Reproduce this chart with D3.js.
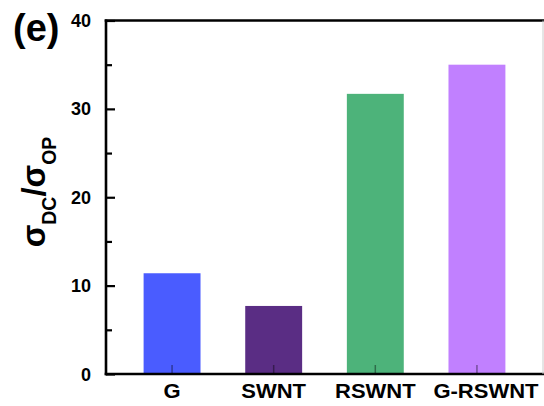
<!DOCTYPE html>
<html><head><meta charset="utf-8">
<script src="https://cdn.jsdelivr.net/npm/d3@7"></script>
<style>body{margin:0;background:#fff}svg{display:block}text{font-family:Arial,"Liberation Sans",sans-serif;font-weight:bold}</style>
</head><body>
<script>
const categories = ["G", "SWNT", "RSWNT", "G-RSWNT"];
const values = [11.4, 7.7, 31.7, 35.0];
const colors = ["#4a5cff", "#5a2d84", "#4db37a", "#c180ff"];
const yTicks = [0, 10, 20, 30, 40];
const yMinorTicks = [5, 15, 25, 35];

(function () {
const W = 544, H = 406;
const mLeft = 106, mRight = 544, mTop = 20.5, mBottom = 374;
const svg = d3.select("body").append("svg").attr("width", W).attr("height", H);

const x = d3.scaleBand().domain(categories).range([mLeft, 543]).paddingInner(0.44).paddingOuter(0.37);
const y = d3.scaleLinear().domain([0, 40]).range([mBottom, mTop]);

// bars
svg.selectAll("rect.bar").data(values).enter().append("rect")
  .attr("x", (d, i) => x(categories[i]))
  .attr("y", d => y(d))
  .attr("width", x.bandwidth())
  .attr("height", d => y(0) - y(d))
  .attr("fill", (d, i) => colors[i]);

// y axis
const yAxis = d3.axisRight(y).tickValues(yTicks).tickSize(9).tickFormat("");
const gy = svg.append("g").attr("transform", `translate(${mLeft},0)`).call(yAxis);
gy.select(".domain").remove();
gy.selectAll("line").attr("stroke", "#000").attr("stroke-width", 2.2);
const yMinor = d3.axisRight(y).tickValues(yMinorTicks).tickSize(6).tickFormat("");
const gym = svg.append("g").attr("transform", `translate(${mLeft},0)`).call(yMinor);
gym.select(".domain").remove();
gym.selectAll("line").attr("stroke", "#000").attr("stroke-width", 2.2);

// y tick labels
svg.selectAll("text.ytl").data(yTicks).enter().append("text")
  .attr("x", 91).attr("y", d => y(d) + 6.5)
  .attr("text-anchor", "end").attr("font-size", 18).text(d => d);

// x ticks inward (faint through bars)
const xAxis = d3.axisTop(x).tickSize(9).tickFormat("");
const gx = svg.append("g").attr("transform", `translate(0,${mBottom})`).call(xAxis);
gx.select(".domain").remove();
gx.selectAll("line").attr("stroke", "#000").attr("stroke-width", 1.5).attr("stroke-opacity", 0.4);

// x labels (last label sits slightly right of its bar in the original)
svg.selectAll("text.xtl").data(categories).enter().append("text")
  .attr("transform", (d, i) => `translate(${x(d) + x.bandwidth() / 2 + (i === categories.length - 1 ? 9 : 0)},398) scale(1.1,1)`)
  .attr("text-anchor", "middle").attr("font-size", 20).text(d => d);

// frame lines
svg.append("line").attr("x1", mLeft).attr("x2", mLeft).attr("y1", mTop - 1).attr("y2", mBottom + 1.2)
  .attr("stroke", "#000").attr("stroke-width", 2.6);
svg.append("line").attr("x1", mLeft - 1.3).attr("x2", mRight).attr("y1", mBottom).attr("y2", mBottom)
  .attr("stroke", "#000").attr("stroke-width", 2.6);
svg.append("line").attr("x1", mLeft - 1.3).attr("x2", mRight).attr("y1", mTop).attr("y2", mTop)
  .attr("stroke", "#000").attr("stroke-width", 2.6);
svg.append("line").attr("x1", 543).attr("x2", 543).attr("y1", mTop).attr("y2", mBottom)
  .attr("stroke", "#ccc").attr("stroke-width", 1);

// panel label
svg.append("text").attr("x", 13).attr("y", 41).attr("font-size", 38).text("(e)");

// y label
const yl = svg.append("text").attr("transform", "translate(45,192) rotate(-90)")
  .attr("text-anchor", "middle");
yl.append("tspan").attr("font-size", 33).text("σ");
yl.append("tspan").attr("font-size", 19.5).attr("dy", 11).text("DC");
yl.append("tspan").attr("font-size", 33).attr("dy", -11).text("/σ");
yl.append("tspan").attr("font-size", 19.5).attr("dy", 11).text("OP");
})();
</script>
</body></html>
